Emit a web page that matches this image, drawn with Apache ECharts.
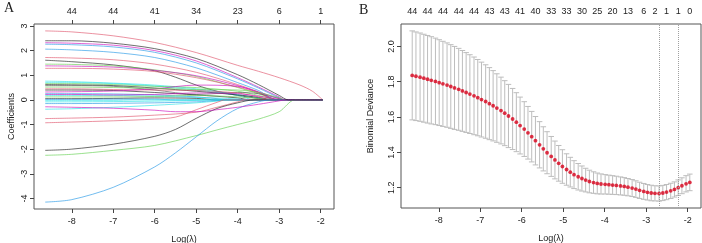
<!DOCTYPE html>
<html>
<head>
<meta charset="utf-8">
<script src="https://cdn.jsdelivr.net/npm/echarts@6/dist/echarts.min.js"></script>
<style>
html, body { margin: 0; padding: 0; background: #fff; }
#chart { width: 702px; height: 243px; }
</style>
</head>
<body>
<div id="chart"></div>
<script>
// shared axis ticks
var xTicks = [-8, -7, -6, -5, -4, -3, -2];
var yTicksA = [-4, -3, -2, -1, 0, 1, 2, 3];
var yTicksB = [1.2, 1.4, 1.6, 1.8, 2.0];

// panel A: df labels on top axis
var dfTopA = ['44', '44', '41', '34', '23', '6', '1'];

// panel A: coefficient paths, [log(lambda), coef]
var K = '#1a1a1a', R = '#DF536B', G = '#61D04F', B = '#2297E6', C = '#28E2E5', M = '#CD0BBC', D = '#555555';
var pathColors = [R, M, B, B, R, K, G, M, R, C, C, G, K, D, R, K, M, B, C, G, K, B, C, C, B, C, G, M, R, R, K, G, B, M, K];
var coefPaths = [
    [[-8.64, 2.80], [-8, 2.76], [-7, 2.60], [-6, 2.33], [-5, 1.92], [-4, 1.40], [-3.5, 1.16], [-3, 0.90], [-2.5, 0.60], [-2.2, 0.35], [-1.95, 0]],
    [[-8.64, 2.32], [-8, 2.30], [-7, 2.22], [-6, 2.00], [-5, 1.58], [-4, 0.90], [-3.5, 0.52], [-3, 0.12], [-2.85, 0], [-1.95, 0]],
    [[-8.64, 2.26], [-8, 2.24], [-7, 2.15], [-6, 1.93], [-5, 1.50], [-4, 0.85], [-3.5, 0.48], [-3, 0.08], [-2.9, 0], [-1.95, 0]],
    [[-8.64, 2.06], [-8, 2.03], [-7, 1.93], [-6, 1.72], [-5, 1.30], [-4, 0.70], [-3.5, 0.38], [-3.05, 0], [-1.95, 0]],
    [[-8.64, 1.72], [-8, 1.70], [-7, 1.63], [-6, 1.45], [-5, 1.12], [-4, 0.62], [-3.5, 0.32], [-3.1, 0], [-1.95, 0]],
    [[-8.64, 1.61], [-8, 1.55], [-7, 1.42], [-6, 1.18], [-5.5, 0.92], [-5, 0.60], [-4.5, 0.35], [-4, 0.18], [-3.5, 0.06], [-3.2, 0], [-1.95, 0]],
    [[-8.64, 1.45], [-8, 1.44], [-7, 1.38], [-6, 1.22], [-5, 0.95], [-4, 0.50], [-3.5, 0.25], [-3.0, 0], [-1.95, 0]],
    [[-8.64, 1.38], [-8, 1.37], [-7, 1.33], [-6, 1.20], [-5, 0.98], [-4, 0.58], [-3.5, 0.30], [-3.0, 0], [-1.95, 0]],
    [[-8.64, 1.28], [-8, 1.28], [-7, 1.25], [-6, 1.15], [-5, 0.90], [-4, 0.52], [-3.5, 0.28], [-3.05, 0], [-1.95, 0]],
    [[-8.64, 0.76], [-8, 0.74], [-7, 0.68], [-6, 0.60], [-5, 0.45], [-4, 0.22], [-3.5, 0.08], [-3.3, 0], [-1.95, 0]],
    [[-8.64, 0.70], [-8, 0.70], [-7, 0.66], [-6, 0.56], [-5, 0.40], [-4, 0.18], [-3.6, 0], [-1.95, 0]],
    [[-8.64, 0.66], [-8, 0.66], [-7, 0.62], [-6, 0.55], [-5, 0.50], [-4, 0.35], [-3.5, 0.18], [-3, 0], [-1.95, 0]],
    [[-8.64, 0.62], [-8, 0.61], [-7, 0.58], [-6, 0.48], [-5, 0.35], [-4, 0.20], [-3.5, 0.10], [-3.1, 0], [-1.95, 0]],
    [[-8.64, 0.58], [-8, 0.58], [-7, 0.55], [-6, 0.40], [-5, 0.22], [-4, 0.30], [-3.5, 0.25], [-3, 0.05], [-2.9, 0], [-1.95, 0]],
    [[-8.64, 0.45], [-8, 0.45], [-7, 0.42], [-6, 0.40], [-5, 0.38], [-4, 0.28], [-3.5, 0.12], [-3.2, 0], [-1.95, 0]],
    [[-8.64, 0.40], [-8, 0.40], [-7, 0.38], [-6, 0.30], [-5, 0.20], [-4, 0.08], [-3.7, 0], [-1.95, 0]],
    [[-8.64, 0.32], [-8, 0.33], [-7, 0.36], [-6, 0.45], [-5, 0.60], [-4, 0.55], [-3.5, 0.32], [-3, 0.05], [-2.9, 0], [-1.95, 0]],
    [[-8.64, 0.25], [-8, 0.25], [-7, 0.24], [-6, 0.20], [-5, 0.12], [-4.5, 0.05], [-4.2, 0], [-1.95, 0]],
    [[-8.64, 0.18], [-8, 0.18], [-7, 0.18], [-6, 0.15], [-5, 0.10], [-4, 0.04], [-3.8, 0], [-1.95, 0]],
    [[-8.64, 0.12], [-8, 0.12], [-7, 0.12], [-6, 0.14], [-5, 0.18], [-4, 0.12], [-3.5, 0.05], [-3.3, 0], [-1.95, 0]],
    [[-8.64, 0.05], [-8, 0.05], [-7, 0.06], [-6, 0.08], [-5, 0.06], [-4.5, 0], [-1.95, 0]],
    [[-8.64, 0.02], [-8, 0.02], [-7, 0.03], [-6, 0.03], [-5.5, 0], [-1.95, 0]],
    [[-8.64, -0.02], [-8, -0.02], [-7, -0.02], [-6.5, 0], [-1.95, 0]],
    [[-8.64, -0.08], [-8, -0.08], [-7, -0.07], [-6, -0.05], [-5, -0.02], [-4.6, 0], [-1.95, 0]],
    [[-8.64, -0.15], [-8, -0.15], [-7, -0.14], [-6, -0.12], [-5, -0.08], [-4.5, -0.03], [-4.2, 0], [-1.95, 0]],
    [[-8.64, -0.38], [-8, -0.36], [-7, -0.30], [-6, -0.22], [-5, -0.12], [-4.5, -0.05], [-4.2, 0], [-1.95, 0]],
    [[-8.64, 0.52], [-8, 0.52], [-7, 0.50], [-6, 0.47], [-5, 0.42], [-4, 0.40], [-3.5, 0.30], [-3, 0.08], [-2.85, 0], [-1.95, 0]],
    [[-8.64, 0.22], [-8, 0.22], [-7, 0.20], [-6, 0.22], [-5, 0.28], [-4, 0.25], [-3.5, 0.15], [-3, 0.02], [-2.9, 0], [-1.95, 0]],
    [[-8.64, -0.76], [-8, -0.74], [-7, -0.70], [-6, -0.62], [-5, -0.50], [-4.5, -0.30], [-4, -0.08], [-3.8, 0], [-1.95, 0]],
    [[-8.64, -0.93], [-8, -0.90], [-7, -0.85], [-6, -0.78], [-5.5, -0.70], [-5, -0.40], [-4.5, -0.10], [-4.3, 0], [-1.95, 0]],
    [[-8.64, -2.05], [-8, -2.00], [-7, -1.80], [-6, -1.48], [-5.5, -1.20], [-5, -0.75], [-4.5, -0.35], [-4, -0.12], [-3.6, 0], [-1.95, 0]],
    [[-8.64, -2.25], [-8, -2.21], [-7, -2.05], [-6, -1.85], [-5, -1.45], [-4.5, -1.22], [-4, -1.00], [-3.5, -0.78], [-3, -0.48], [-2.62, 0], [-1.95, 0]],
    [[-8.64, -4.15], [-8, -4.05], [-7, -3.55], [-6, -2.72], [-5.5, -2.15], [-5, -1.50], [-4.5, -0.85], [-4, -0.35], [-3.5, -0.08], [-3.2, 0], [-1.95, 0]],
    [[-8.64, -0.28], [-8, -0.30], [-7, -0.34], [-6, -0.42], [-5.5, -0.48], [-5, -0.48], [-4.5, -0.40], [-4, -0.30], [-3.5, -0.18], [-3, -0.04], [-2.85, 0], [-1.95, 0]],
    [[-8.64, 2.40], [-8, 2.40], [-7, 2.30], [-6, 2.08], [-5, 1.68], [-4, 1.02], [-3.5, 0.62], [-3, 0.18], [-2.78, 0], [-1.95, 0]]
];

// panel B: cross-validation curve
var logLambda = [
    -8.64, -8.55, -8.45, -8.36, -8.27, -8.18, -8.08, -7.99, -7.90, -7.80,
    -7.71, -7.62, -7.52, -7.43, -7.34, -7.25, -7.15, -7.06, -6.97, -6.87,
    -6.78, -6.69, -6.60, -6.50, -6.41, -6.32, -6.22, -6.13, -6.04, -5.94,
    -5.85, -5.76, -5.67, -5.57, -5.48, -5.39, -5.29, -5.20, -5.11, -5.02,
    -4.92, -4.83, -4.74, -4.64, -4.55, -4.46, -4.37, -4.27, -4.18, -4.09,
    -3.99, -3.90, -3.81, -3.72, -3.62, -3.53, -3.44, -3.34, -3.25, -3.16,
    -3.06, -2.97, -2.88, -2.79, -2.69, -2.60, -2.51, -2.41, -2.32, -2.23,
    -2.14, -2.04, -1.95
];
var cvMean = [
    1.836, 1.831, 1.826, 1.820, 1.814, 1.808, 1.802, 1.795, 1.788, 1.781,
    1.773, 1.765, 1.757, 1.748, 1.739, 1.730, 1.720, 1.710, 1.699, 1.688,
    1.676, 1.664, 1.651, 1.637, 1.622, 1.606, 1.589, 1.571, 1.552, 1.532,
    1.511, 1.489, 1.466, 1.443, 1.420, 1.398, 1.377, 1.357, 1.338, 1.320,
    1.303, 1.288, 1.274, 1.262, 1.252, 1.243, 1.235, 1.229, 1.224, 1.221,
    1.219, 1.217, 1.215, 1.213, 1.210, 1.207, 1.203, 1.198, 1.192, 1.185,
    1.179, 1.174, 1.170, 1.168, 1.167, 1.170, 1.175, 1.182, 1.190, 1.200,
    1.211, 1.222, 1.230
];
var cvSE = [
    0.252, 0.251, 0.250, 0.249, 0.248, 0.247, 0.245, 0.243, 0.241, 0.239,
    0.237, 0.235, 0.232, 0.229, 0.226, 0.223, 0.220, 0.216, 0.212, 0.208,
    0.204, 0.199, 0.194, 0.189, 0.184, 0.179, 0.173, 0.167, 0.161, 0.155,
    0.149, 0.143, 0.137, 0.131, 0.125, 0.119, 0.113, 0.107, 0.101, 0.095,
    0.089, 0.084, 0.079, 0.075, 0.071, 0.067, 0.064, 0.061, 0.059, 0.057,
    0.055, 0.054, 0.053, 0.052, 0.051, 0.050, 0.049, 0.048, 0.047, 0.046,
    0.045, 0.044, 0.044, 0.043, 0.043, 0.043, 0.043, 0.043, 0.043, 0.044,
    0.045, 0.046, 0.047
];
var dfTopPosB = [-8.64, -8.27, -7.90, -7.52, -7.15, -6.78, -6.41, -6.04, -5.67, -5.29,
    -4.92, -4.55, -4.18, -3.81, -3.44, -3.06, -2.79, -2.51, -2.23, -1.95];
var dfTopB = ['44', '44', '44', '44', '44', '43', '43', '41', '40', '33',
    '33', '30', '25', '20', '13', '6', '2', '1', '1', '0'];
var lambdaMin = -2.69, lambda1se = -2.23;

var font = '"Liberation Sans", Arial, sans-serif';
var txt = '#222';
var capHalf = 0.067;

function pickLabel(pos, labels) {
    return function (v) {
        var best = 0;
        for (var i = 1; i < pos.length; i++) {
            if (Math.abs(pos[i] - v) < Math.abs(pos[best] - v)) best = i;
        }
        return labels[best];
    };
}

function bottomAxis(gi) {
    return {
        type: 'value', gridIndex: gi, position: 'bottom', min: -8.91, max: -1.68,
        name: 'Log(\u03bb)', nameLocation: 'middle', nameGap: 26,
        nameTextStyle: {fontFamily: font, fontSize: 9, color: txt},
        axisLine: {show: false, onZero: false},
        axisTick: {show: true, length: 4, customValues: xTicks, lineStyle: {color: '#444'}},
        axisLabel: {customValues: xTicks, margin: 8, fontFamily: font, fontSize: 9, color: txt},
        splitLine: {show: false}
    };
}

var chart = echarts.init(document.getElementById('chart'));

var seriesA = coefPaths.map(function (p, i) {
    return {
        type: 'line', xAxisIndex: 0, yAxisIndex: 0, data: p, showSymbol: false,
        smooth: 0.3, lineStyle: {color: pathColors[i], width: 0.75, opacity: 0.85}, silent: true
    };
});

var barData = logLambda.map(function (x, i) {
    return [x, cvMean[i] - cvSE[i], cvMean[i] + cvSE[i]];
});
var dotData = logLambda.map(function (x, i) {
    return [x, cvMean[i]];
});

var option = {
    animation: false,
    grid: [
        {left: 34, top: 24, width: 300, height: 185, show: true, borderColor: '#555', borderWidth: 1, outerBoundsMode: 'none'},
        {left: 401, top: 24, width: 300, height: 184, show: true, borderColor: '#555', borderWidth: 1, outerBoundsMode: 'none'}
    ],
    xAxis: [
        bottomAxis(0),
        {
            type: 'value', gridIndex: 0, position: 'top', min: -8.91, max: -1.68,
            axisLine: {show: false, onZero: false},
            axisTick: {show: true, length: 4, customValues: xTicks, lineStyle: {color: '#444'}},
            axisLabel: {customValues: xTicks, margin: 8, fontFamily: font, fontSize: 9, color: txt,
                formatter: pickLabel(xTicks, dfTopA)},
            splitLine: {show: false}
        },
        bottomAxis(1),
        {
            type: 'value', gridIndex: 1, position: 'top', min: -8.91, max: -1.68,
            axisLine: {show: false, onZero: false}, axisTick: {show: false},
            axisLabel: {customValues: dfTopPosB, margin: 8, fontFamily: font, fontSize: 9, color: txt,
                formatter: pickLabel(dfTopPosB, dfTopB)},
            splitLine: {show: false}
        }
    ],
    yAxis: [
        {
            type: 'value', gridIndex: 0, min: -4.43, max: 3.08,
            name: 'Coefficients', nameLocation: 'middle', nameGap: 18,
            nameTextStyle: {fontFamily: font, fontSize: 9, color: txt},
            axisLine: {show: false, onZero: false},
            axisTick: {show: true, length: 4, customValues: yTicksA, lineStyle: {color: '#444'}},
            axisLabel: {customValues: yTicksA, rotate: 90, margin: 5, fontFamily: font, fontSize: 9, color: txt},
            splitLine: {show: false}
        },
        {
            type: 'value', gridIndex: 1, min: 1.085, max: 2.127,
            name: 'Binomial Deviance', nameLocation: 'middle', nameGap: 26,
            nameTextStyle: {fontFamily: font, fontSize: 9, color: txt},
            axisLine: {show: false, onZero: false},
            axisTick: {show: true, length: 4, customValues: yTicksB, lineStyle: {color: '#444'}},
            axisLabel: {customValues: yTicksB, rotate: 90, margin: 5, fontFamily: font, fontSize: 9, color: txt,
                formatter: function (v) { return v.toFixed(1); }},
            splitLine: {show: false}
        }
    ],
    graphic: [
        {type: 'text', left: 4, top: 1, style: {text: 'A', fontFamily: '"Liberation Serif", "DejaVu Serif", serif', fontSize: 14, fill: '#222'}},
        {type: 'text', left: 359, top: 3, style: {text: 'B', fontFamily: '"Liberation Serif", "DejaVu Serif", serif', fontSize: 14, fill: '#222'}}
    ],
    series: seriesA.concat([
        {
            type: 'custom', xAxisIndex: 2, yAxisIndex: 1, data: barData, silent: true,
            encode: {x: 0, y: [1, 2]},
            renderItem: function (params, api) {
                var x = api.value(0);
                var top = api.coord([x, api.value(2)]);
                var bot = api.coord([x, api.value(1)]);
                var w = api.size([capHalf, 0])[0];
                var st = {stroke: '#bdbdbd', lineWidth: 1};
                return {
                    type: 'group', children: [
                        {type: 'line', shape: {x1: top[0], y1: top[1], x2: bot[0], y2: bot[1]}, style: st},
                        {type: 'line', shape: {x1: top[0] - w, y1: top[1], x2: top[0] + w, y2: top[1]}, style: st},
                        {type: 'line', shape: {x1: bot[0] - w, y1: bot[1], x2: bot[0] + w, y2: bot[1]}, style: st}
                    ]
                };
            }
        },
        {
            type: 'scatter', xAxisIndex: 2, yAxisIndex: 1, data: dotData, symbolSize: 3.8, silent: true,
            itemStyle: {color: '#d8001a'},
            markLine: {
                silent: true, symbol: 'none', label: {show: false},
                lineStyle: {type: 'dotted', color: '#a0a0a0', width: 1},
                data: [{xAxis: lambdaMin}, {xAxis: lambda1se}]
            }
        }
    ])
};
chart.setOption(option);
</script>
</body>
</html>
